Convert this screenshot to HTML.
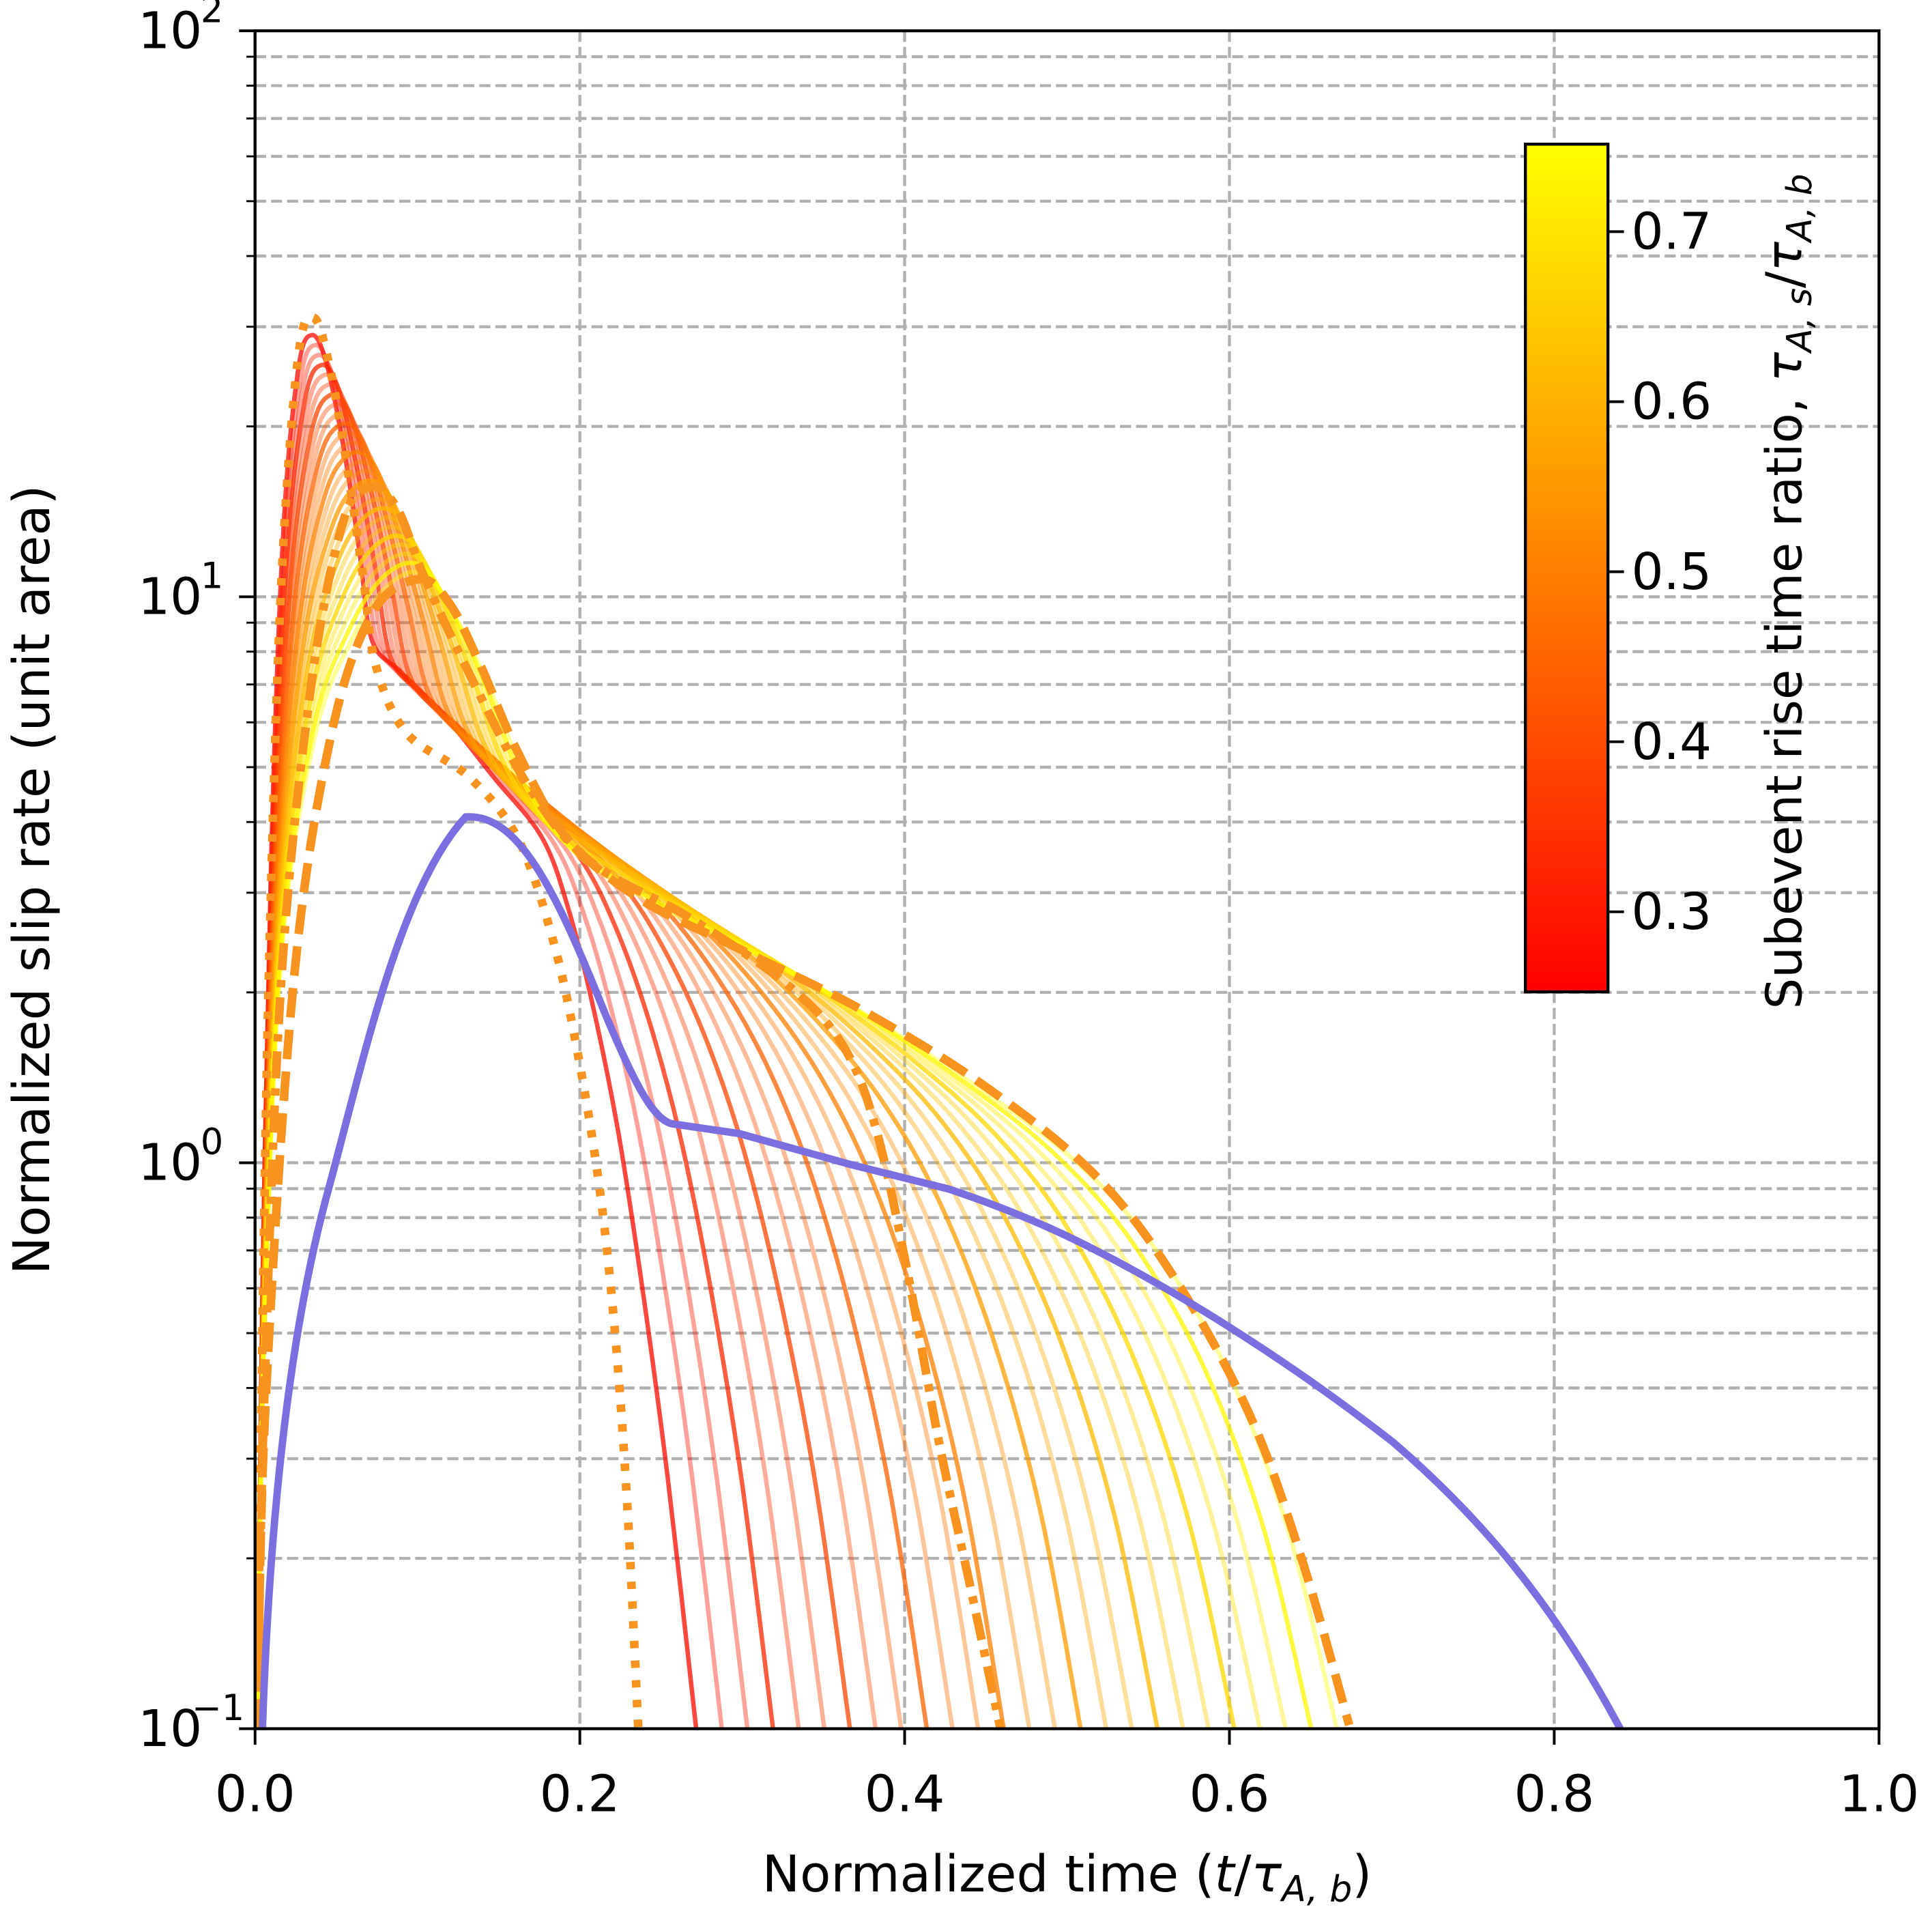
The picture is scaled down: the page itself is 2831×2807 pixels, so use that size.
<!DOCTYPE html>
<html><head><meta charset="utf-8"><style>
html,body{margin:0;padding:0;background:#fff}
svg{display:block}
text{font-family:"DejaVu Sans","Liberation Sans",sans-serif;fill:#000}
</style></head><body>
<svg id="s" width="2831" height="2807" viewBox="0 0 1568 1555" preserveAspectRatio="none" xmlns="http://www.w3.org/2000/svg">
<defs>
<linearGradient id="cb" x1="0" y1="1" x2="0" y2="0">
<stop offset="0" stop-color="#ff0000"/><stop offset="1" stop-color="#ffff00"/>
</linearGradient>
<clipPath id="cp"><rect x="207" y="25" width="1318" height="1378"/></clipPath>
</defs>
<g id="grid"></g>
<g id="curves" clip-path="url(#cp)"></g>
<rect x="207" y="25" width="1318" height="1378" fill="none" stroke="#000" stroke-width="2.4"/>
<g id="ticks"></g>
<rect x="1238" y="117" width="67" height="688" fill="url(#cb)" stroke="#000" stroke-width="2.4"/>
<g id="cbt"></g>
<text x="1462" y="480" font-size="40" text-anchor="middle" transform="rotate(-90 1462 480)">Subevent rise time ratio, <tspan font-style="italic">τ</tspan><tspan font-style="italic" font-size="28" dy="8">A, s</tspan><tspan dy="-8">/</tspan><tspan font-style="italic">τ</tspan><tspan font-style="italic" font-size="28" dy="8">A, b</tspan></text>
<text x="866" y="1535" font-size="41" text-anchor="middle">Normalized time (<tspan font-style="italic">t</tspan>/<tspan font-style="italic">τ</tspan><tspan font-style="italic" font-size="29" dy="8">A, b</tspan><tspan dy="-8">)</tspan></text>
<text x="40" y="714" font-size="41" text-anchor="middle" transform="rotate(-90 40 714)">Normalized slip rate (unit area)</text>
</svg>
<script>
var NS="http://www.w3.org/2000/svg";
function el(p,t,a,txt){var e=document.createElementNS(NS,t);for(var k in a)e.setAttribute(k,a[k]);if(txt!==undefined)e.textContent=txt;document.getElementById(p).appendChild(e);return e;}
var X=function(t){return 207+1318*t}, Y=function(v){return 1403-459.33*(Math.log10(v)+1)};
[0.2,0.4,0.6,0.8].forEach(function(t){el("grid","line",{x1:X(t),x2:X(t),y1:25,y2:1403,stroke:"#b0b0b0","stroke-width":2.4,"stroke-dasharray":"9,4"});});
for(var d=-1;d<2;d++)for(var m=1;m<10;m++){var v=m*Math.pow(10,d);if(d==-1&&m==1)continue;var y=Y(v);
el("grid","line",{x1:207,x2:1525,y1:y,y2:y,stroke:"#b0b0b0","stroke-width":2.4,"stroke-dasharray":"9,4"});}
[0,0.2,0.4,0.6,0.8,1.0].forEach(function(t){el("ticks","line",{x1:X(t),x2:X(t),y1:1403,y2:1416,stroke:"#000","stroke-width":2.2});
el("ticks","text",{x:X(t),y:1470,"font-size":41,"text-anchor":"middle"},t.toFixed(1));});
for(var d=-1;d<=2;d++){for(var m=1;m<10;m++){if(d==2&&m>1)break;var y=Y(m*Math.pow(10,d));
el("ticks","line",{x1:m==1?194:200,x2:207,y1:y,y2:y,stroke:"#000","stroke-width":m==1?2.2:1.6});}
var y=Y(Math.pow(10,d));el("ticks","text",{x:138,y:y+14,"font-size":41,"text-anchor":"middle"},"10");
el("ticks","text",{x:d<0?177:172,y:y-7,"font-size":29,"text-anchor":"middle"},d<0?"−1":String(d));}
[0.3,0.4,0.5,0.6,0.7].forEach(function(v){var y=740-(v-0.3)*1380;
el("cbt","line",{x1:1305,x2:1318,y1:y,y2:y,stroke:"#000","stroke-width":2.2});
el("cbt","text",{x:1324,y:y+14,"font-size":41},v.toFixed(1));});
function path(p){var s="M"+p[0][0]+","+p[0][1];for(var i=0;i<p.length-1;i++){var p0=p[i-1]||p[i],p1=p[i],p2=p[i+1],p3=p[i+2]||p2;
var c1=[p1[0]+(p2[0]-p0[0])/6,p1[1]+(p2[1]-p0[1])/6],c2=[p2[0]-(p3[0]-p1[0])/6,p2[1]-(p3[1]-p1[1])/6];
s+=" C"+c1[0].toFixed(1)+","+c1[1].toFixed(1)+" "+c2[0].toFixed(1)+","+c2[1].toFixed(1)+" "+p2[0].toFixed(1)+","+p2[1].toFixed(1);}return s;}
var R=[[209,1403],[213,1050],[220,700],[230,430],[242,300],[253,272],[265,295],[280,370],[292,450],[302,520],[325,545],[360,580],[400,630],[440,680],[462,740],[482,820],[502,920],[522,1050],[542,1200],[565,1403]];
var Yl=[[209,1403],[214,1100],[228,780],[255,600],[285,520],[315,475],[345,466],[372,505],[400,565],[430,640],[470,695],[540,738],[620,778],[700,822],[790,880],[870,940],[935,1010],[995,1110],[1045,1240],[1085,1403]];
var N=26;
for(var i=0;i<N;i++){var f=i/(N-1);var r=0.27+f*0.48;var cf=(r-0.253)/0.498;
var pts=R.map(function(p,k){return [p[0]+(Yl[k][0]-p[0])*f,p[1]+(Yl[k][1]-p[1])*f];});
el("curves","path",{d:path(pts),fill:"none",stroke:"rgb(255,"+Math.round(255*cf)+",0)","stroke-width":3.6,"stroke-opacity":(i%3==0?0.75:0.4),"stroke-linejoin":"round"});}
el("curves","path",{d:path([[209,1403],[212,1150],[218,800],[228,480],[242,290],[255,258],[268,300],[282,380],[295,470],[305,540],[330,595],[380,630],[420,680],[448,760],[468,850],[486,960],[499,1080],[509,1220],[518,1403]]),fill:"none",stroke:"#f7931e","stroke-width":7,"stroke-dasharray":"6,10"});
el("curves","path",{d:path([[209,1403],[214,1150],[228,800],[252,560],[278,425],[300,395],[322,412],[345,470],[380,545],[430,640],[480,700],[560,745],[640,800],[685,850],[712,920],[738,1040],[762,1170],[788,1290],[812,1403]]),fill:"none",stroke:"#f7931e","stroke-width":7,"stroke-dasharray":"22,8,6,8"});
el("curves","path",{d:path([[209,1403],[215,1150],[238,800],[268,600],[302,498],[340,470],[365,490],[390,540],[420,610],[460,680],[520,730],[600,770],[700,820],[800,882],[890,955],[955,1040],[1015,1150],[1058,1270],[1095,1400]]),fill:"none",stroke:"#f7931e","stroke-width":7,"stroke-dasharray":"24,10"});
el("curves","path",{d:"M213,1403 C220,1200 240,1060 268,960 C295,860 325,720 378,663 C420,660 450,720 490,820 C515,880 530,908 545,912 L600,920 L690,945 L770,965 C800,975 840,990 880,1010 C950,1045 1040,1100 1130,1170 C1200,1230 1260,1300 1315,1403",fill:"none",stroke:"#7b6fe0","stroke-width":6});
</script>
</body></html>
